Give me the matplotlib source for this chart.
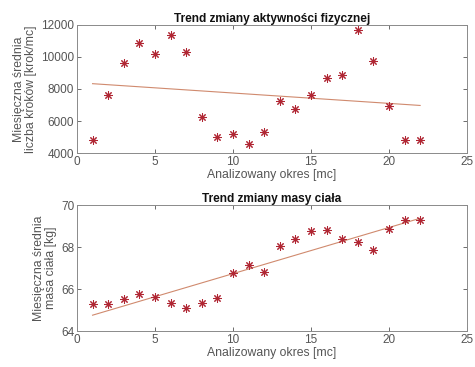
import numpy as np
import matplotlib
matplotlib.use("Agg")
import matplotlib.pyplot as plt

plt.rcParams['font.family'] = ['Liberation Sans', 'DejaVu Sans']

# Months analysed
months = np.arange(1, 23)

# Monthly mean number of steps [steps/month]
steps = [4800, 7650, 9640, 10900, 10200, 11350, 10300, 6250, 5000, 5200, 4580,
         5300, 7250, 6780, 7630, 8680, 8880, 11700, 9750, 6920, 4800, 4790]

# Monthly mean body mass [kg]
mass = [65.31, 65.28, 65.53, 65.77, 65.61, 65.36, 65.10, 65.34, 65.56, 66.76, 67.14,
        66.80, 68.03, 68.37, 68.77, 68.82, 68.37, 68.22, 67.84, 68.86, 69.29, 69.29]

titles = ["Trend zmiany aktywności fizycznej", "Trend zmiany masy ciała"]
ylabels = ["Miesięczna średnia\nliczba kroków [krok/mc]", "Miesięczna średnia\nmasa ciała [kg]"]
xlabel = "Analizowany okres [mc]"
ylims = [(4000, 12000), (64, 70)]
yticks = [[4000, 6000, 8000, 10000, 12000], [64, 66, 68, 70]]
xticks = [0, 5, 10, 15, 20, 25]

text_color = "#555555"
edge_color = "#8a8a8a"
marker_color = "#b02633"
trend_color = "#d08a6e"

fig = plt.figure(figsize=(4.75, 3.67), dpi=100)
ax1 = fig.add_axes([0.162, 0.583, 0.821, 0.349])
ax2 = fig.add_axes([0.162, 0.098, 0.821, 0.343])

for ax, y, title, ylabel, ylim, yt in zip([ax1, ax2], [steps, mass], titles, ylabels, ylims, yticks):
    y = np.asarray(y, dtype=float)
    coef = np.polyfit(months, y, 1)
    ax.plot(months, np.polyval(coef, months), color=trend_color, lw=0.8, zorder=2)
    # asterisk marker: four crossing strokes
    ax.plot(months, y, linestyle='none', marker=(8, 2, 0), markersize=6.0,
            markerfacecolor=marker_color, markeredgecolor=marker_color,
            markeredgewidth=0.75, zorder=3)
    ax.set_xlim(0, 25)
    ax.set_ylim(*ylim)
    ax.set_xticks(xticks)
    ax.set_yticks(yt)
    ax.set_title(title, fontsize=8.6, fontweight='bold', color='#111111', pad=2)
    ax.set_ylabel(ylabel, fontsize=8.8, color=text_color, labelpad=3, linespacing=1.0)
    ax.set_xlabel(xlabel, fontsize=8.8, color=text_color, labelpad=1)
    ax.tick_params(axis='both', labelsize=8.5, colors=text_color, direction='in',
                   length=3, width=0.6, top=True, right=True, pad=2)
    for sp in ax.spines.values():
        sp.set_color(edge_color)
        sp.set_linewidth(0.7)

fig.savefig("out.png", dpi=100, facecolor='white')
